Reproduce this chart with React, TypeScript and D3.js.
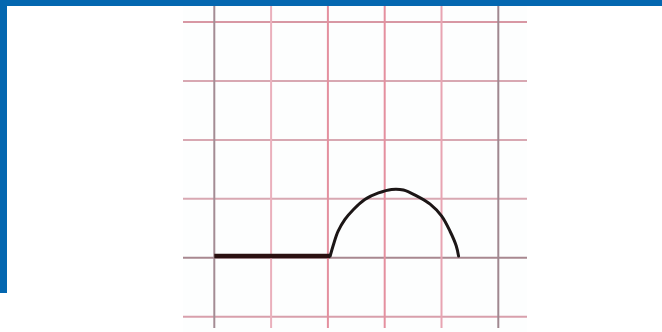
import React from "react";
import * as d3 from "d3";

// Grid divisions (in grid units)
const verticalTicks = [0, 1, 2, 3, 4, 5];
const horizontalTicks = [-1, 0, 1, 2, 3, 4];

// Flat baseline segment
const baselineX = [0, 2.04];
const baselineY = [0.03, 0.03];

// Rounded wave after the baseline
const waveX = [2.04, 2.1, 2.18, 2.3, 2.45, 2.65, 2.89, 3.12, 3.33, 3.56, 3.8, 4.0, 4.15, 4.26, 4.3];
const waveY = [0.03, 0.23, 0.45, 0.65, 0.82, 0.99, 1.1, 1.16, 1.15, 1.05, 0.91, 0.71, 0.45, 0.2, 0.03];

const W = 662;
const H = 332;
const BLUE = "#0467b0";

const vColors = ["#a48c94", "#eab0bc", "#e4909f", "#e4909f", "#e8a4b2", "#a08890"];
const hColors = ["#d8a0ac", "#a88890", "#d8a8b2", "#d8a8b2", "#d8a8b2", "#d898a4"];

export default function App() {
  const x = d3.scaleLinear().domain([0, 5]).range([214.3, 498.3]);
  const y = d3.scaleLinear().domain([-1, 4]).range([316.7, 22]);

  const line = d3
    .line<[number, number]>()
    .x((d) => x(d[0]))
    .y((d) => y(d[1]));

  const waveLine = d3
    .line<[number, number]>()
    .x((d) => x(d[0]))
    .y((d) => y(d[1]))
    .curve(d3.curveCatmullRom.alpha(0.5));

  const basePts = baselineX.map((v, i) => [v, baselineY[i]] as [number, number]);
  const wavePts = waveX.map((v, i) => [v, waveY[i]] as [number, number]);

  const gridLeft = 183;
  const gridRight = 527;

  return (
    <svg
      width={W}
      height={H}
      style={{ position: "absolute", left: 0, top: 0, display: "block" }}
    >
      <rect x={0} y={0} width={W} height={H} fill="#ffffff" />
      <rect x={gridLeft} y={6} width={gridRight - gridLeft} height={H - 6} fill="#fdfefe" />
      <g>
        {horizontalTicks.map((t, i) => (
          <line
            key={"h" + t}
            x1={gridLeft}
            x2={gridRight}
            y1={y(t)}
            y2={y(t)}
            stroke={hColors[i]}
            strokeWidth={2}
          />
        ))}
        {verticalTicks.map((t, i) => (
          <line
            key={"v" + t}
            x1={x(t)}
            x2={x(t)}
            y1={6}
            y2={328}
            stroke={vColors[i]}
            strokeWidth={2}
          />
        ))}
      </g>
      <path d={line(basePts) || ""} fill="none" stroke="#2a1010" strokeWidth={4.5} />
      <path
        d={waveLine(wavePts) || ""}
        fill="none"
        stroke="#1c1616"
        strokeWidth={3}
        strokeLinecap="round"
      />
      <rect x={0} y={0} width={W} height={6} fill={BLUE} />
      <rect x={0} y={0} width={7} height={293} fill={BLUE} />
    </svg>
  );
}
